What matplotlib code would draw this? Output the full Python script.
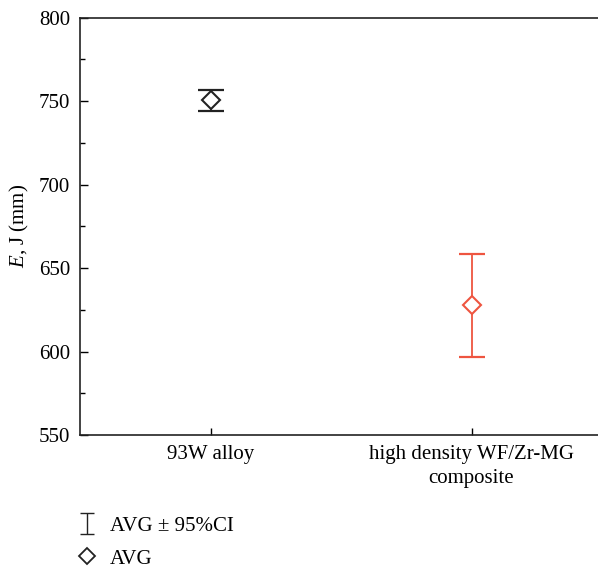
import numpy as np
import matplotlib
matplotlib.use('Agg')
import matplotlib.pyplot as plt
from matplotlib.lines import Line2D
from matplotlib.ticker import MultipleLocator

plt.rcParams['font.family'] = ['Liberation Serif', 'DejaVu Serif']
plt.rcParams['mathtext.fontset'] = 'custom'
plt.rcParams['mathtext.it'] = 'Liberation Serif:italic'
plt.rcParams['mathtext.rm'] = 'Liberation Serif'

categories = ['93W alloy', 'high density WF/Zr-MG\ncomposite']
avg = [750.3, 627.6]
ci_low = [743.8, 597.0]
ci_high = [756.8, 658.3]
colors = ['#222222', '#EE5540']

FS = 15

fig = plt.figure(figsize=(5.98, 5.68), dpi=100)
ax = fig.add_axes([80 / 598, 1 - 435 / 568, 522 / 598, 417.5 / 568])

x = np.arange(1, len(categories) + 1)
for i in range(len(categories)):
    err = [[avg[i] - ci_low[i]], [ci_high[i] - avg[i]]]
    ax.errorbar(x[i], avg[i], yerr=err, fmt='none', ecolor=colors[i],
                elinewidth=1.3, capsize=9.5, capthick=1.6)
    ax.plot(x[i], avg[i], marker='D', ms=9, mfc='white', mec=colors[i],
            mew=1.5, ls='none', zorder=5)

ax.set_xlim(0.5, 2.5)
ax.set_ylim(550, 800)
ax.yaxis.set_major_locator(MultipleLocator(50))
ax.yaxis.set_minor_locator(MultipleLocator(25))
ax.set_xticks(x)
ax.set_xticklabels(categories, fontsize=FS, linespacing=1.4)
ax.tick_params(axis='y', which='major', direction='in', length=6, width=1,
               labelsize=FS, right=False, pad=7)
ax.tick_params(axis='y', which='minor', direction='in', length=3.5, width=1,
               right=False)
ax.tick_params(axis='x', direction='in', length=5, width=1, top=False, pad=7)
for sp in ax.spines.values():
    sp.set_linewidth(1.2)
    sp.set_color('#222222')

ax.set_ylabel('$E$, J (mm)', fontsize=FS, labelpad=6)

# legend below the plot
eb = ax.errorbar([np.nan], [np.nan], yerr=[1], fmt='none', ecolor='#222222',
                 elinewidth=1, capsize=4.8, capthick=1, label='AVG ± 95%CI')
dm = Line2D([], [], marker='D', ms=8, mfc='white', mec='#222222', mew=1.3,
            ls='none', label='AVG')
fig.legend(handles=[eb, dm], loc='upper left',
           bbox_to_anchor=(66.5 / 598, 1 - 506 / 568), frameon=False,
           fontsize=FS, borderpad=0, handlelength=1.0, handletextpad=0.6,
           labelspacing=0.62)

fig.savefig('out.png', dpi=100)
